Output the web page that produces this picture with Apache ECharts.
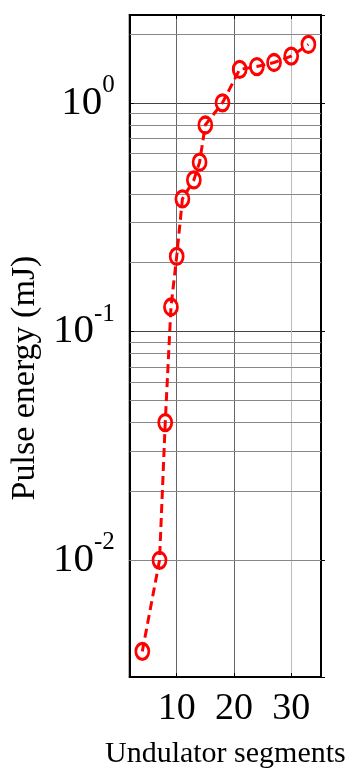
<!DOCTYPE html>
<html>
<head>
<meta charset="utf-8">
<script src="https://cdn.jsdelivr.net/npm/echarts@6/dist/echarts.min.js"></script>
<style>
html,body{margin:0;padding:0;background:#fff;}
#chart{width:355px;height:779px;}
</style>
</head>
<body>
<div id="chart"></div>
<script>
// Data
const segments = [4, 7, 8, 9, 10, 11, 13, 14, 15, 18, 21, 24, 27, 30, 33];
const energy   = [0.0040, 0.0100, 0.040, 0.128, 0.213, 0.38, 0.46, 0.55, 0.80, 1.00, 1.40, 1.44, 1.50, 1.60, 1.80];
const xTicks = [10, 20, 30];
const yMinor = [0.004, 0.005, 0.006, 0.007, 0.008, 0.009,
                0.02, 0.03, 0.04, 0.05, 0.06, 0.07, 0.08, 0.09,
                0.2, 0.3, 0.4, 0.5, 0.6, 0.7, 0.8, 0.9, 2];

const chart = echarts.init(document.getElementById('chart'), null, {renderer: 'canvas'});
const serif = 'Liberation Serif';
const X_MIN = 1.8, X_MAX = 35.2, Y_MIN = 0.00309, Y_MAX = 2.42;

const option = {
  animation: false,
  backgroundColor: '#fff',
  grid: {left: 129, right: 34, top: 15, bottom: 102, show: true, borderColor: '#000', borderWidth: 2, backgroundColor: 'transparent'},
  xAxis: [{
    type: 'value', min: X_MIN, max: X_MAX, position: 'bottom',
    name: 'Undulator segments', nameLocation: 'middle', nameGap: 62,
    nameTextStyle: {fontFamily: serif, fontSize: 30, color: '#000'},
    axisLine: {show: true, lineStyle: {color: '#000', width: 2}},
    axisTick: {show: true, inside: true, length: 4, customValues: xTicks, lineStyle: {color: '#000', width: 1}},
    axisLabel: {customValues: xTicks, fontFamily: serif, fontSize: 38, color: '#000', margin: 13},
    splitLine: {show: true, lineStyle: {color: ['#666', '#666', '#bbb'], width: 1}}
  }, {
    type: 'value', min: X_MIN, max: X_MAX, position: 'top',
    axisLine: {show: true, lineStyle: {color: '#000', width: 2}},
    axisTick: {show: true, inside: true, length: 4, customValues: xTicks, lineStyle: {color: '#000'}},
    axisLabel: {show: false},
    splitLine: {show: false}
  }],
  yAxis: [{
    type: 'log', logBase: 10, min: Y_MIN, max: Y_MAX, position: 'left',
    name: 'Pulse energy (mJ)', nameLocation: 'middle', nameGap: 80, nameRotate: 90,
    nameTextStyle: {fontFamily: serif, fontSize: 34, color: '#000', padding: [0, 64, 0, 0]},
    axisLine: {show: true, lineStyle: {color: '#000', width: 2}},
    axisTick: {show: true, inside: true, length: 4, lineStyle: {color: '#000'}},
    axisLabel: {
      showMinLabel: false, showMaxLabel: false, margin: 15, color: '#000',
      formatter: function (v) {
        const l = Math.log10(v), e = Math.round(l);
        if (Math.abs(l - e) > 1e-6) return '';
        return '{b|10}{s|' + e + '}';
      },
      rich: {
        b: {fontFamily: serif, fontSize: 41, color: '#000', lineHeight: 60},
        s: {fontFamily: serif, fontSize: 25, color: '#000', verticalAlign: 'top', lineHeight: 26}
      }
    },
    splitLine: {show: true, lineStyle: {color: '#444', width: 1}}
  }, {
    type: 'log', logBase: 10, min: Y_MIN, max: Y_MAX, position: 'right',
    axisLine: {show: true, lineStyle: {color: '#000', width: 2}},
    axisTick: {show: true, inside: false, length: 4, lineStyle: {color: '#000'}},
    axisLabel: {show: false},
    splitLine: {show: false}
  }],
  series: [{
    type: 'line',
    data: segments.map((s, i) => [s, energy[i]]),
    symbol: 'circle',
    symbolSize: [13, 16],
    itemStyle: {color: 'rgba(255,255,255,0)', borderColor: '#ff0000', borderWidth: 3},
    lineStyle: {color: '#ff0000', width: 3, type: [9, 5]},
    z: 5,
    markLine: {
      silent: true, symbol: ['none', 'none'], label: {show: false},
      lineStyle: {color: '#888', width: 1, type: 'solid'},
      data: yMinor.map(v => ({yAxis: v}))
    }
  }]
};
chart.setOption(option);
</script>
</body>
</html>
